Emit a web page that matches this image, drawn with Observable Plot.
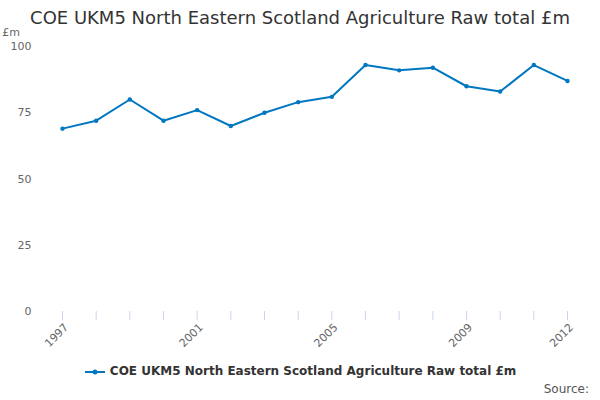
<!DOCTYPE html>
<html><head>
<script src="https://cdn.jsdelivr.net/npm/d3@7"></script>
<script src="https://cdn.jsdelivr.net/npm/@observablehq/plot@0.6"></script>
<style>
body{margin:0;width:600px;height:400px;font-family:"DejaVu Sans",sans-serif;background:#fff;position:relative;overflow:hidden}
#title{height:26px;line-height:36px;text-align:center;font-size:18px;color:#333}
#chart svg{display:block}
#legend{position:absolute;top:364px;left:0;width:600px;text-align:center;font-size:12px;font-weight:bold;color:#333}
#source{position:absolute;top:382px;right:11px;font-size:12px;color:#555}
</style></head><body>
<div id="title">COE UKM5 North Eastern Scotland Agriculture Raw total £m</div>
<div id="chart"></div>
<div id="legend"><svg width="22" height="10" style="vertical-align:middle"><line x1="1" x2="21" y1="5" y2="5" stroke="#0077c0" stroke-width="2"/><circle cx="11" cy="5" r="2.5" fill="#0077c0"/></svg> COE UKM5 North Eastern Scotland Agriculture Raw total £m</div>
<div id="source">Source:</div>
<script>
const years=[1997,1998,1999,2000,2001,2002,2003,2004,2005,2006,2007,2008,2009,2010,2011,2012];
const values=[69,72,80,72,76,70,75,79,81,93,91,92,85,83,93,87];
const labelYears=[1997,2001,2005,2009,2012];
const yTicks=[0,25,50,75,100];
const data=years.map((y,i)=>({year:y,value:values[i]}));
const chart=Plot.plot({
 width:600,height:330,marginTop:20,marginBottom:45,marginLeft:62,marginRight:33,
 style:{fontFamily:"DejaVu Sans",fontSize:"11px",color:"#666",overflow:"visible"},
 x:{domain:[1997,2012],label:null,ticks:[]},
 y:{domain:[0,100],label:null,ticks:[]},
 marks:[
  Plot.gridY(yTicks,{stroke:"#e6e6e6",strokeOpacity:1,x1:30,x2:584}),
  Plot.ruleY([0],{stroke:"#ccd6eb",x1:30,x2:584}),
  Plot.ruleX(years,{x:d=>d,y1:0,y2:-3.5,stroke:"#ccd6eb"}),
  Plot.text(yTicks,{x:1997,y:d=>d,text:d=>String(d),dx:-31,textAnchor:"end",fill:"#666"}),
  Plot.text(labelYears,{x:d=>d,y:0,text:d=>String(d),rotate:-45,textAnchor:"end",dy:14,dx:4,fill:"#666"}),
  Plot.line(data,{x:"year",y:"value",stroke:"#0077c0",strokeWidth:2}),
  Plot.dot(data,{x:"year",y:"value",fill:"#0077c0",r:2.2})
 ]
});
document.getElementById("chart").appendChild(chart);
d3.select(chart).append("text").attr("x",11).attr("y",10).attr("font-size",11).attr("fill","#666").text("£m");
</script>
</body></html>
